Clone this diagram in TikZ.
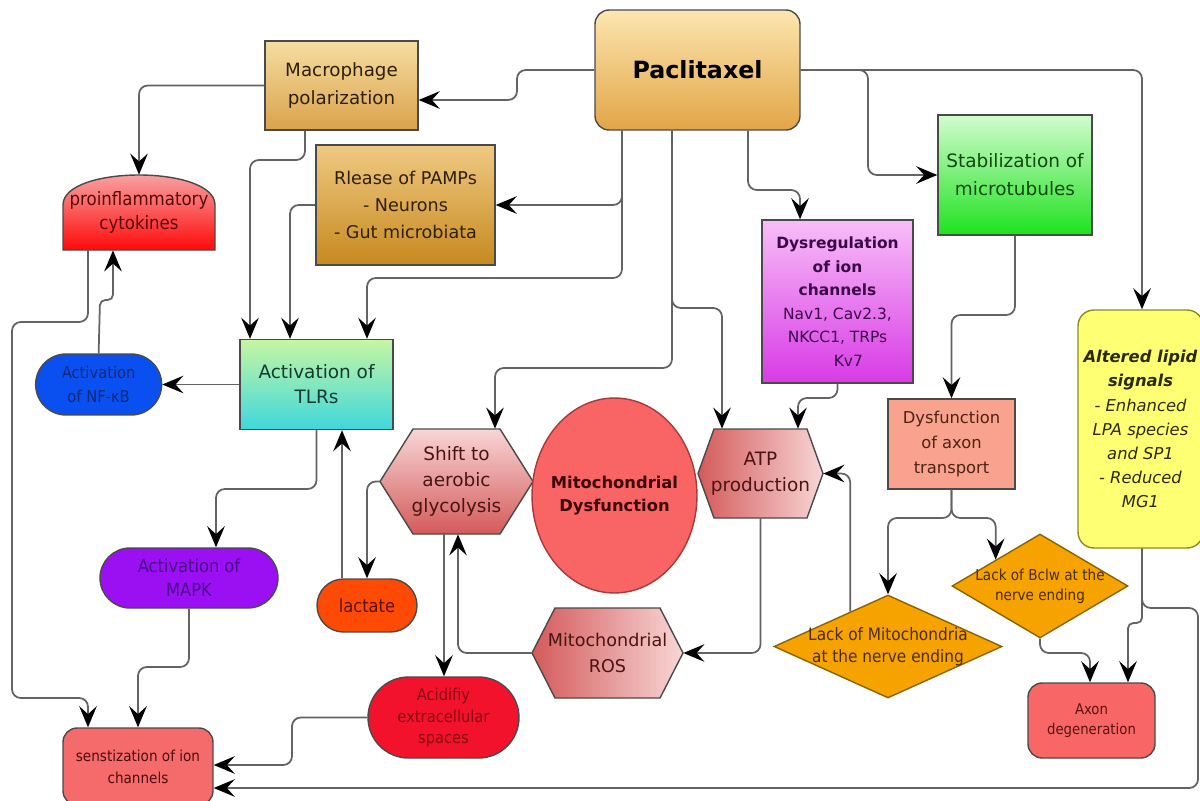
\documentclass[tikz,border=0pt]{standalone}
\usepackage{fontspec}
\setmainfont{DejaVu Sans}[BoldFont={DejaVu Sans Bold},ItalicFont={DejaVu Sans Oblique},BoldItalicFont={DejaVu Sans Bold Oblique}]
\newfontfamily\narrowfont{DejaVu Sans Condensed}
\usepackage{tikz}
\usetikzlibrary{positioning,calc,arrows.meta,shapes.geometric,shapes.misc}

\definecolor{linegray}{HTML}{636363}
\definecolor{boxline}{HTML}{4A4A4A}
\definecolor{pacTop}{HTML}{FCE6B0}
\definecolor{pacBot}{HTML}{E2A547}
\definecolor{macTop}{HTML}{F6DDA2}
\definecolor{macBot}{HTML}{D9A34A}
\definecolor{pamTop}{HTML}{EFC982}
\definecolor{pamBot}{HTML}{C7891F}
\definecolor{brownText}{HTML}{2E2008}
\definecolor{cytTop}{HTML}{F8B4B4}
\definecolor{cytBot}{HTML}{FF0A0A}
\definecolor{cytText}{HTML}{5A0A0A}
\definecolor{tlrTop}{HTML}{C6F6A2}
\definecolor{tlrBot}{HTML}{3ED8DC}
\definecolor{tlrText}{HTML}{143A30}
\definecolor{nfkbFill}{HTML}{0A50F0}
\definecolor{nfkbText}{HTML}{102A78}
\definecolor{mapkFill}{HTML}{9A10F2}
\definecolor{mapkText}{HTML}{4A0A8A}
\definecolor{lactFill}{HTML}{FF4A06}
\definecolor{lactText}{HTML}{5A1206}
\definecolor{acidFill}{HTML}{F2122C}
\definecolor{acidText}{HTML}{8A0A16}
\definecolor{sensFill}{HTML}{F56A6A}
\definecolor{sensText}{HTML}{4A0E0E}
\definecolor{hexLight}{HTML}{F8D6D6}
\definecolor{hexDark}{HTML}{D45A5A}
\definecolor{hexText}{HTML}{4A1414}
\definecolor{mitoFill}{HTML}{F96464}
\definecolor{mitoLine}{HTML}{A83A3A}
\definecolor{mitoText}{HTML}{3A0606}
\definecolor{dysTop}{HTML}{F8BEF8}
\definecolor{dysBot}{HTML}{D83AE6}
\definecolor{dysText}{HTML}{3A0846}
\definecolor{stabTop}{HTML}{D2FCCF}
\definecolor{stabBot}{HTML}{1EE21E}
\definecolor{stabText}{HTML}{0E4A0E}
\definecolor{axtrFill}{HTML}{F9A38F}
\definecolor{axtrText}{HTML}{4A2414}
\definecolor{lipidFill}{HTML}{FFFF73}
\definecolor{lipidLine}{HTML}{8C8C20}
\definecolor{lipidText}{HTML}{2A2A06}
\definecolor{diaFill}{HTML}{F6A300}
\definecolor{diaLine}{HTML}{8A6400}
\definecolor{diaText}{HTML}{4A2C00}
\definecolor{axdegFill}{HTML}{F96666}
\definecolor{axdegText}{HTML}{5A1212}

\begin{document}
\begin{tikzpicture}[x=0.02cm,y=-0.02cm,
box/.style={draw=boxline,line width=0.8pt,align=center,inner sep=0pt},
pill/.style={rounded rectangle,box},
txt/.style={align=center,inner sep=0pt},
hexa/.style={draw=boxline,line width=0.8pt},
dia/.style={diamond,draw=diaLine,line width=0.8pt,fill=diaFill,inner sep=0pt},
edge/.style={-{Stealth[length=12pt,width=10pt,inset=4.5pt,color=black]},draw=linegray,line width=1pt,rounded corners=5pt}]

\useasboundingbox (0,0) rectangle (1200,801);
\fill[white] (0,0) rectangle (1200,801);

% top row
\node[box,rounded corners=8pt,top color=pacTop,bottom color=pacBot,minimum width=4.1cm,minimum height=2.4cm,font=\fontsize{13.5}{16}\selectfont\bfseries](pac) at (697.5,70){Paclitaxel};
\node[box,top color=macTop,bottom color=macBot,minimum width=3.06cm,minimum height=1.78cm,text=brownText,font=\fontsize{10.4}{16}\selectfont](macro) at (341.5,85.5){Macrophage\\polarization};
\node[box,top color=pamTop,bottom color=pamBot,minimum width=3.58cm,minimum height=2.4cm,text=brownText,font=\fontsize{10}{15.4}\selectfont](pamps) at (405.5,205){Rlease of PAMPs\\- Neurons\\- Gut microbiata};
\node[box,top color=stabTop,bottom color=stabBot,minimum width=3.08cm,minimum height=2.4cm,text=stabText,font=\fontsize{10.5}{16}\selectfont](stab) at (1015,175){Stabilization of\\microtubules};
\node[box,top color=dysTop,bottom color=dysBot,minimum width=3.02cm,minimum height=3.26cm,text=dysText,font=\fontsize{8.8}{13.4}\selectfont](dys) at (837.5,301.5){\textbf{Dysregulation}\\\textbf{of ion}\\\textbf{channels}\\Nav1, Cav2.3,\\NKCC1, TRPs\\\hspace{1.4em}Kv7};

% cytokines
\shade[hexa,top color=cytTop,bottom color=cytBot] (63,250) -- (63,205) .. controls (63,165) and (215,165) .. (215,205) -- (215,250) -- cycle;
\node[txt,minimum width=3.04cm,minimum height=1.5cm,text=cytText,font=\narrowfont\fontsize{10.5}{14}\selectfont](cyt) at (139,212.5){proinflammatory\\cytokines};

% left column
\node[box,top color=tlrTop,bottom color=tlrBot,minimum width=3.06cm,minimum height=1.8cm,text=tlrText,font=\fontsize{10.5}{14.2}\selectfont](tlr) at (316.5,384.5){Activation of\\TLRs};
\node[pill,fill=nfkbFill,minimum width=2.52cm,minimum height=1.22cm,text=nfkbText,font=\narrowfont\fontsize{9.3}{13.7}\selectfont,left=1.54cm of tlr](nfkb){Activation\\of NF-κB};
\node[pill,fill=mapkFill,minimum width=3.56cm,minimum height=1.2cm,text=mapkText,font=\narrowfont\fontsize{10.3}{13.7}\selectfont](mapk) at (189,578){Activation of\\MAPK};
\node[pill,fill=lactFill,minimum width=2cm,minimum height=1.06cm,text=lactText,font=\narrowfont\fontsize{10.3}{13}\selectfont](lact) at (367,605.5){lactate};
\node[pill,fill=acidFill,minimum width=3.02cm,minimum height=1.62cm,text=acidText,font=\narrowfont\fontsize{9.3}{12}\selectfont](acid) at (443.5,717.5){Acidifiy\\extracellular\\spaces};
\node[box,rounded corners=8pt,fill=sensFill,minimum width=3cm,minimum height=1.54cm,text=sensText,font=\narrowfont\fontsize{8.6}{12.5}\selectfont](sens) at (138,766.5){senstization of ion\\channels};

% mitochondria
\shade[hexa,top color=hexLight,bottom color=hexDark] (380,481.5) -- (413,429) -- (500,429) -- (533,481.5) -- (500,534) -- (413,534) -- cycle;
\node[txt,minimum width=3.06cm,minimum height=2.1cm,text=hexText,font=\fontsize{10.5}{15}\selectfont](shift) at (456.5,481.5){Shift to\\aerobic\\glycolysis};
\shade[hexa,left color=hexDark,right color=hexLight] (698,473.5) -- (714,429) -- (807,429) -- (823,473.5) -- (807,518) -- (714,518) -- cycle;
\node[txt,minimum width=2.5cm,minimum height=1.78cm,text=hexText,font=\fontsize{10.5}{14.8}\selectfont](atp) at (760.5,473.5){ATP\\production};
\shade[hexa,left color=hexDark,right color=hexLight] (532,653) -- (555,608) -- (660,608) -- (683,653) -- (660,698) -- (555,698) -- cycle;
\node[txt,minimum width=3.02cm,minimum height=1.8cm,text=hexText,font=\fontsize{10}{15}\selectfont](ros) at (607.5,653){Mitochondrial\\ROS};
\node[ellipse,draw=mitoLine,line width=0.8pt,fill=mitoFill,minimum width=3.3cm,minimum height=3.9cm,inner xsep=-14pt,inner ysep=0pt,align=center,text=mitoText,font=\fontsize{9.3}{12.8}\selectfont\bfseries](mito) at (614.5,495.5){Mitochondrial\\Dysfunction};

% right side
\node[box,fill=axtrFill,minimum width=2.54cm,minimum height=1.8cm,text=axtrText,font=\fontsize{9.3}{14}\selectfont](axtr) at (951.5,444){Dysfunction\\of axon\\transport};
\node[box,draw=lipidLine,rounded corners=9pt,fill=lipidFill,minimum width=2.5cm,minimum height=4.76cm,text=lipidText,font=\fontsize{9.3}{13.7}\selectfont](lipid) at (1140.5,429){\textbf{\textit{Altered lipid}}\\\textbf{\textit{signals}}\\\textit{- Enhanced}\\\textit{LPA species}\\\textit{and SP1}\\\textit{- Reduced}\\\textit{MG1}};
\node[dia,minimum width=3.52cm,minimum height=2.08cm,label={[align=center,text=diaText,font=\narrowfont\fontsize{8.6}{11.5}\selectfont]center:Lack of Bclw at the\\nerve ending}](bclw) at (1040,586){};
\node[dia,minimum width=4.56cm,minimum height=2.06cm,label={[align=center,text=diaText,font=\narrowfont\fontsize{9.7}{12.5}\selectfont]center:Lack of Mitochondria\\at the nerve ending}](lackm) at (888,646.5){};
\node[box,rounded corners=8pt,fill=axdegFill,minimum width=2.54cm,minimum height=1.5cm,text=axdegText,font=\narrowfont\fontsize{8.4}{11.5}\selectfont](axdeg) at (1091.5,720.5){Axon\\degeneration};

% edges from paclitaxel
\draw[edge] (pac.west) -- (517,70) -- (517,100) -- (macro.east |- 0,100);
\draw[edge] (pac.south -| 622,0) |- (pamps.east);
\draw[edge] (pac.south -| 622,0) -- (622,278) -- (367,278) -- (tlr.north -| 367,0);
\draw[edge] (pac.south -| 672,0) -- (672,308) -- (722,308) -- (atp.north -| 722,0);
\draw[edge] (pac.south -| 672,0) -- (672,368) -- (495,368) -- (shift.north -| 495,0);
\draw[edge] (pac.south -| 748,0) -- (748,190) -- (800,190) -- (dys.north -| 800,0);
\draw[edge] (pac.east) -- (868,70) |- (stab.west);
\draw[edge] (pac.east) -| (lipid.north -| 1142,0);

% inflammation
\draw[edge] (macro.west) -| (cyt.north);
\draw[edge] (macro.south -| 305,0) -- (305,160) -- (250,160) -- (tlr.north -| 250,0);
\draw[edge] (pamps.west) -| (tlr.north -| 290,0);
\draw[edge] (tlr.west) -- (nfkb.east);
\draw[edge,rounded corners=3pt] (nfkb.north) -- (100,300) -- (113,300) -- (cyt.south -| 113,0);
\draw[edge] (cyt.south -| 88,0) -- (88,322) -- (12,322) -- (12,698) -- (88,698) -- (sens.north -| 88,0);
\draw[edge] (tlr.south) -- (316.5,489) -- (216,489) -- (mapk.north -| 216,0);
\draw[edge] (mapk.south) -- (189,667) -- (138,667) -- (sens.north);
\draw[edge] (lact.north -| 342,0) -- (tlr.south -| 342,0);

% glycolysis and mitochondria
\draw[edge] (shift.west) -| (lact.north);
\draw[edge] (shift.south -| 444,0) -- (acid.north -| 444,0);
\draw[edge] (ros.west) -| (shift.south -| 458,0);
\draw[edge] (acid.west) -- (292,717.5) -- (292,765) -- (sens.east |- 0,765);
\draw[edge] (atp.south) |- (ros.east);
\draw[edge] (dys.south) -- (837.5,398) -- (798,398) -- (atp.north -| 798,0);
\draw[edge] ($(lackm.north)!0.33!(lackm.west)$) |- (atp.east);

% axon
\draw[edge] (stab.south) -- (1015,315) -- (951.5,315) -- (axtr.north);
\draw[edge] (axtr.south) -- (951.5,518) -- (888,518) -- (lackm.north);
\draw[edge] (axtr.south) -- (951.5,518) -| (bclw.north west);
\draw[edge] (bclw.south) -- (1040,653) -- (1090,653) -- (axdeg.north -| 1090,0);
\draw[edge,rounded corners=3pt] (lipid.south -| 1142,0) -- (1142,623) -- (1128,623) -- (axdeg.north -| 1128,0);
\draw[edge] (lipid.south -| 1142,0) -- (1142,608) -- (1198,608) -- (1198,788) -- (sens.east |- 0,788);
\end{tikzpicture}
\end{document}
